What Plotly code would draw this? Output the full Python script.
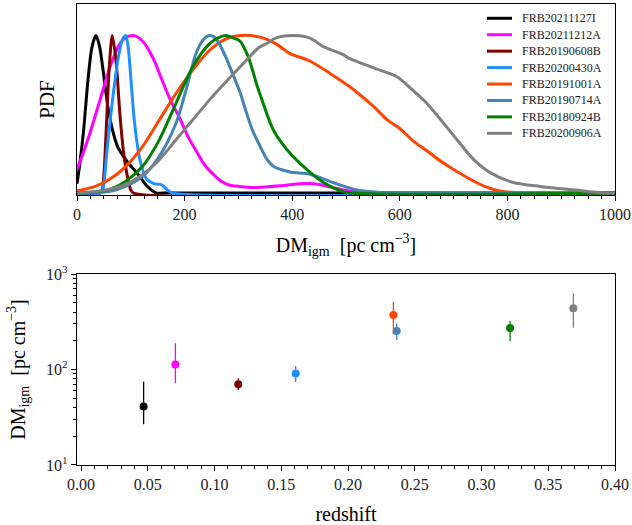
import plotly.graph_objects as go

# ---------------- data ----------------
names = ["FRB20211127I", "FRB20211212A", "FRB20190608B", "FRB20200430A",
         "FRB20191001A", "FRB20190714A", "FRB20180924B", "FRB20200906A"]
colors = ["#000000", "#FF00FF", "#800000", "#1E90FF",
          "#FF4500", "#4682B4", "#008000", "#808080"]

dm_a = [0, 5, 11.8, 21, 28, 35.3, 42, 47.7, 58.2, 67.5, 76, 86, 98, 111, 120, 129.5, 140, 148, 160, 1000]
pdf_a = [0.06, 0.18, 0.38, 0.74, 0.93, 1.0, 0.93, 0.80, 0.53, 0.38, 0.29, 0.235, 0.18, 0.13, 0.09, 0.046, 0.015, 0.0, 0.0, 0.0]

dm_b = [0, 12, 24, 42.7, 61.3, 80, 92, 104.7, 117, 129.5, 145, 160, 175, 191, 206, 222, 237, 253, 268, 284, 303,
        327.6, 350, 377, 400, 425, 440, 455, 470, 489, 510, 536, 560, 1000]
pdf_b = [0.15, 0.26, 0.38, 0.59, 0.80, 0.95, 0.99, 1.0, 0.98, 0.93, 0.83, 0.70, 0.58, 0.475, 0.36, 0.265, 0.18, 0.12,
         0.075, 0.05, 0.042, 0.036, 0.039, 0.046, 0.055, 0.061, 0.059, 0.052, 0.04, 0.025, 0.012, 0.004, 0, 0]

dm_c = [0, 40, 46, 50, 54, 60, 65.6, 72.5, 80, 87.4, 95.4, 100, 105, 1000]
pdf_c = [0, 0, 0.01, 0.12, 0.38, 0.80, 1.0, 0.84, 0.49, 0.235, 0.077, 0.02, 0, 0]

dm_d = [0, 44, 48, 56, 66, 76.8, 84, 90.5, 95, 98.5, 103, 107.8, 117, 129.5, 140, 148, 155, 160, 170, 179, 1000]
pdf_d = [0, 0, 0.02, 0.28, 0.59, 0.86, 0.97, 1.0, 0.93, 0.80, 0.6, 0.42, 0.21, 0.088, 0.065, 0.057, 0.055, 0.046, 0.015, 0, 0]

dm_e = [0, 35, 60, 91, 122, 153, 184, 215, 246, 277, 303, 340, 370, 396, 432, 470, 507, 551, 575, 600, 625, 650,
        675, 700, 737, 760, 786, 830, 1000]
pdf_e = [0.013, 0.044, 0.086, 0.17, 0.296, 0.464, 0.632, 0.78, 0.905, 0.979, 1.0, 0.99, 0.947, 0.885, 0.84, 0.76,
         0.675, 0.55, 0.47, 0.41, 0.33, 0.27, 0.205, 0.15, 0.077, 0.04, 0.014, 0, 0]

dm_f = [0, 30, 60, 91, 122, 153, 184, 202.6, 221, 234, 246, 255, 264.5, 277, 289, 303, 314, 326, 340, 352, 365,
        396, 433, 476, 520, 565, 600, 1000]
pdf_f = [0, 0.003, 0.01, 0.045, 0.107, 0.233, 0.443, 0.653, 0.884, 0.97, 1.0, 0.99, 0.947, 0.86, 0.76, 0.64, 0.52,
         0.40, 0.30, 0.22, 0.17, 0.134, 0.12, 0.067, 0.02, 0.004, 0, 0]

dm_g = [0, 30, 60, 91, 122, 153, 184, 215, 246, 262, 276, 290, 303, 311, 320, 334, 346, 365, 390, 427, 458, 489, 510, 1000]
pdf_g = [0, 0.006, 0.023, 0.076, 0.17, 0.338, 0.57, 0.80, 0.947, 0.985, 1.0, 0.985, 0.965, 0.92, 0.85, 0.69, 0.57,
         0.40, 0.277, 0.15, 0.067, 0.015, 0, 0]

dm_h = [0, 30, 60, 91, 122, 153, 184, 215, 246, 277, 303, 339, 352, 370, 405, 432, 458, 494, 507, 563, 594, 625,
        650, 675, 706, 737, 768, 811, 861, 922, 972, 1000]
pdf_h = [0, 0.008, 0.023, 0.055, 0.118, 0.212, 0.338, 0.464, 0.59, 0.706, 0.80, 0.926, 0.948, 0.985, 1.0, 0.985,
         0.93, 0.88, 0.853, 0.78, 0.74, 0.65, 0.57, 0.47, 0.34, 0.214, 0.13, 0.067, 0.042, 0.021, 0.004, 0]

dm_grids = [dm_a, dm_b, dm_c, dm_d, dm_e, dm_f, dm_g, dm_h]
pdf_vals = [pdf_a, pdf_b, pdf_c, pdf_d, pdf_e, pdf_f, pdf_g, pdf_h]

redshift = [0.0469, 0.0707, 0.1178, 0.1608, 0.234, 0.2365, 0.3214, 0.3688]
dm_igm = [41, 113, 70, 91, 372, 253, 272, 438]
dm_hi = [74.5, 189, 81, 109, 513, 305, 324, 628]
dm_lo = [26.7, 72, 61, 74, 234, 204, 199, 274]

top_ticks = [0, 200, 400, 600, 800, 1000]
bot_ticks = [0.00, 0.05, 0.10, 0.15, 0.20, 0.25, 0.30, 0.35, 0.40]
bot_ticktext = ["0.00", "0.05", "0.10", "0.15", "0.20", "0.25", "0.30", "0.35", "0.40"]
log_ticks = [10, 100, 1000]
log_ticktext = ["10<sup>1</sup>", "10<sup>2</sup>", "10<sup>3</sup>"]
log_minor = [20, 30, 40, 50, 60, 70, 80, 90, 200, 300, 400, 500, 600, 700, 800, 900]

# ---------------- figure ----------------
FONT = "Liberation Serif, DejaVu Serif, serif"
W, H = 632, 525
ML, MR, MT, MB = 77, 17, 4, 60
fig = go.Figure()

for n, c, x, y in zip(names, colors, dm_grids, pdf_vals):
    fig.add_trace(go.Scatter(x=x, y=y, mode="lines", name=n, showlegend=False,
                             line=dict(color=c, width=3, shape="spline", smoothing=0.8),
                             xaxis="x", yaxis="y"))

for i in range(len(names)):
    fig.add_trace(go.Scatter(
        x=[redshift[i]], y=[dm_igm[i]], mode="markers", showlegend=False, name=names[i],
        marker=dict(color=colors[i], size=8),
        error_y=dict(type="data", symmetric=False,
                     array=[dm_hi[i] - dm_igm[i]], arrayminus=[dm_igm[i] - dm_lo[i]],
                     color=colors[i], thickness=1.3, width=0),
        xaxis="x2", yaxis="y2"))

# compact legend (matplotlib-like spacing) in paper coordinates
pw, ph = W - ML - MR, H - MT - MB
def px2paper(px, py):
    return (px - ML) / pw, (H - MB - py) / ph

leg_x0, leg_x1, leg_tx, leg_y0, leg_dy = 487, 512, 520, 18.3, 16.43
for i, (n, c) in enumerate(zip(names, colors)):
    ypx = leg_y0 + i * leg_dy
    xa, ya = px2paper(leg_x0, ypx)
    xb, _ = px2paper(leg_x1, ypx)
    xt, _ = px2paper(leg_tx, ypx)
    fig.add_shape(type="line", xref="paper", yref="paper", x0=xa, x1=xb, y0=ya, y1=ya,
                  line=dict(color=c, width=3))
    fig.add_annotation(xref="paper", yref="paper", x=xt, y=ya, text=n, showarrow=False,
                       xanchor="left", yanchor="middle", font=dict(size=12, family=FONT, color="#222"))

axis_common = dict(showline=True, linecolor="black", linewidth=1.3, mirror=True, automargin=False,
                   showgrid=False, zeroline=False, tickcolor="black",
                   tickwidth=1.2, ticklen=5, tickfont=dict(size=16, family=FONT, color="#222"))

fig.update_layout(
    width=W, height=H,
    margin=dict(l=ML, r=MR, t=MT, b=MB),
    paper_bgcolor="white", plot_bgcolor="white",
    font=dict(family=FONT, color="black"),
    showlegend=False,
    xaxis=dict(domain=[0, 1], anchor="y", range=[0, 1000], tickvals=top_ticks, ticks="outside",
               minor=dict(dtick=25, ticks="outside", ticklen=3, tickcolor="black", tickwidth=1),
               title=dict(text="DM<sub>igm</sub>  [pc cm<sup>−3</sup>]", font=dict(size=20, family=FONT)),
               **axis_common),
    yaxis=dict(domain=[0.5857, 1.0], anchor="x", range=[-0.012, 1.2], ticks="",
               showticklabels=False, title=dict(text="PDF", font=dict(size=21, family=FONT)),
               **axis_common),
    xaxis2=dict(domain=[0, 1], anchor="y2", range=[-0.003, 0.4], tickvals=bot_ticks, ticktext=bot_ticktext,
                ticks="outside",
                minor=dict(dtick=0.01, tick0=0, ticks="outside", ticklen=3, tickcolor="black", tickwidth=1),
                title=dict(text="redshift", font=dict(size=20, family=FONT)),
                **axis_common),
    yaxis2=dict(domain=[0, 0.4143], anchor="x2", type="log", range=[1, 3], ticks="outside",
                tickvals=log_ticks, ticktext=log_ticktext,
                minor=dict(tickvals=log_minor, ticks="outside", ticklen=3, tickcolor="black", tickwidth=1),
                title=dict(text="DM<sub>igm</sub>  [pc cm<sup>−3</sup>]", font=dict(size=20, family=FONT)),
                **axis_common),
)

fig.write_html("out.html", config={"displayModeBar": False},
               post_script="document.body.style.margin='0';document.body.style.overflow='hidden';")
